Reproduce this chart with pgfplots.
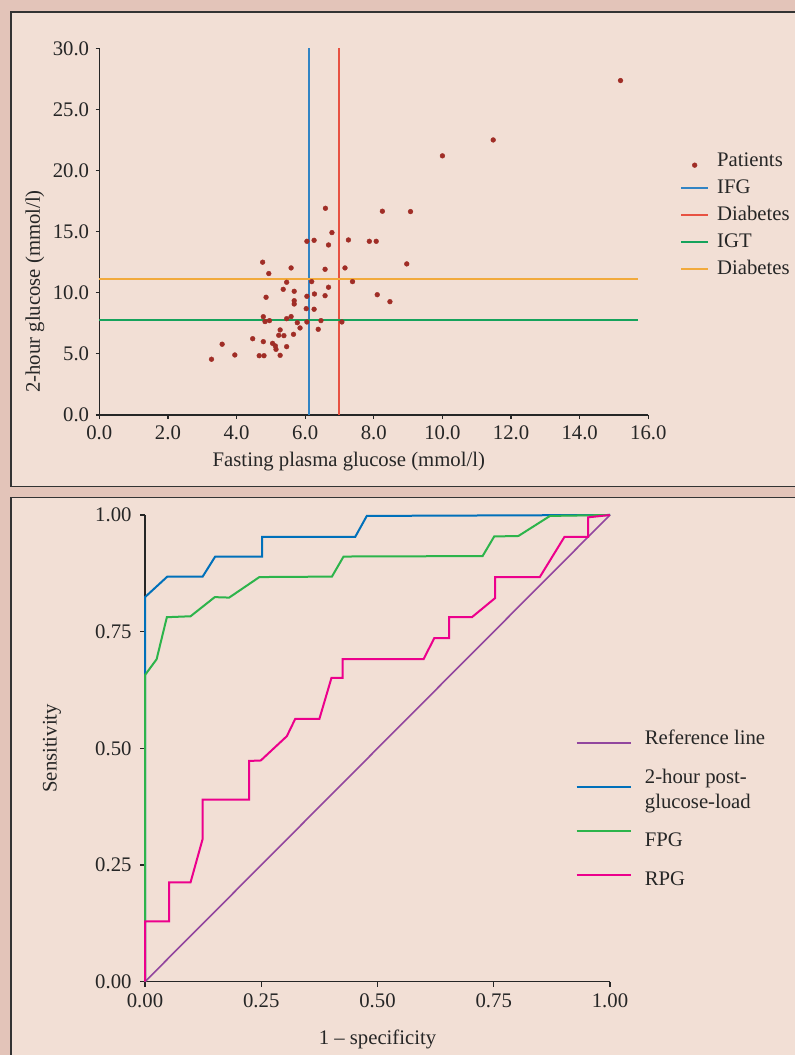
\documentclass[border=0pt]{standalone}
\usepackage{pgfplots}
\pgfplotsset{compat=1.18}
\usepackage{fontspec}
\setmainfont{Liberation Serif}
\definecolor{outerbg}{RGB}{227,196,185}
\definecolor{panelbg}{RGB}{242,223,213}
\definecolor{ptcol}{RGB}{160,45,38}
\definecolor{cifg}{RGB}{50,132,196}
\definecolor{cdred}{RGB}{232,82,66}
\definecolor{cigt}{RGB}{22,163,92}
\definecolor{cdorange}{RGB}{242,170,60}
\definecolor{refpurple}{RGB}{146,70,158}
\definecolor{rocblue}{RGB}{0,112,186}
\definecolor{rocgreen}{RGB}{45,180,75}
\definecolor{rocpink}{RGB}{236,0,140}
\pgfplotsset{/pgf/number format/assume math mode=true}
\begin{document}
\begin{tikzpicture}[x=1bp,y=1bp,font=\fontsize{20.8}{25}\selectfont]
\useasboundingbox (0,0) rectangle (795,1055);
\fill[outerbg] (0,0) rectangle (795,1055);
\filldraw[fill=panelbg, draw=black!80, line width=1.3bp] (11,568.3) rectangle (810,1043);
\filldraw[fill=panelbg, draw=black!80, line width=1.3bp] (11,-20) rectangle (810,557.7);

\begin{axis}[
  at={(99.3bp,640bp)}, anchor=south west,
  scale only axis, width=549bp, height=366.7bp,
  xmin=0, xmax=16, ymin=0, ymax=30,
  axis x line*=bottom, axis y line*=left,
  axis line style={-, black!85, line width=1.3bp},
  tick align=outside, major tick length=3.7bp,
  tick style={black!85, line width=1.2bp},
  xtick={0,2,...,16}, ytick={0,5,...,30},
  xticklabel style={/pgf/number format/fixed, /pgf/number format/fixed zerofill, /pgf/number format/precision=1, text=black!85, yshift=-4bp},
  yticklabel style={/pgf/number format/fixed, /pgf/number format/fixed zerofill, /pgf/number format/precision=1, text=black!85, xshift=-3bp},
  xlabel={Fasting plasma glucose (mmol/l)},
  xlabel style={at={(axis description cs:0.4545,-0.1274)}, anchor=center, text=black!85},
  ylabel={2-hour glucose (mmol/l)},
  ylabel style={at={(axis description cs:-0.1171,0.3368)}, anchor=center, text=black!85},
  clip=false,
  legend cell align=left,
  legend style={at={(1.0577,0.7227)}, anchor=north west, draw=none, fill=none,
    inner sep=0pt, column sep=6bp, row sep=5bp,
    nodes={inner sep=2bp, text height=14bp, text depth=4bp, text=black!85}},
  legend image code/.code={\draw[#1] (0bp,0bp) -- (27bp,0bp);},
]
\addplot[only marks, mark=*, mark size=2.4bp, color=ptcol,
  legend image code/.code={\draw[ptcol, mark=*, mark size=2.4bp] plot coordinates {(13.5bp,-4bp)};}] coordinates {
(3.27,4.56) (3.58,5.79) (3.95,4.91) (4.47,6.24) (4.66,4.85) (4.80,4.85)
(4.78,6.00) (4.76,12.50) (4.78,8.04) (4.83,7.64) (4.96,7.72) (4.86,9.63)
(4.94,11.57) (5.05,5.86) (5.13,5.65) (5.15,5.37) (5.27,4.88) (5.27,6.96)
(5.23,6.52) (5.38,6.49) (5.46,5.59) (5.36,10.28) (5.46,10.86) (5.46,7.88)
(5.59,12.03) (5.59,8.05) (5.66,6.60) (5.68,10.12) (5.68,9.35) (5.68,9.08)
(5.77,7.55) (5.85,7.12) (6.03,8.70) (6.05,9.71) (6.05,7.61) (6.05,14.21)
(6.26,14.29) (6.19,10.91) (6.27,9.90) (6.26,8.65) (6.38,7.01) (6.46,7.72)
(6.58,11.92) (6.58,9.76) (6.68,10.45) (6.68,13.91) (6.78,14.92) (7.07,7.61)
(7.16,12.03) (7.26,14.32) (7.38,10.91) (7.87,14.21) (8.07,14.21) (8.10,9.84)
(8.47,9.27) (8.96,12.36) (6.59,16.91) (8.25,16.67) (9.07,16.64) (10.00,21.20)
(11.48,22.50) (15.19,27.36)
};
\addlegendentry{Patients}
\addplot[color=cifg, line width=2bp] coordinates {(6.1,0) (6.1,30)};
\addlegendentry{IFG}
\addplot[color=cdred, line width=2bp] coordinates {(7.0,0) (7.0,30)};
\addlegendentry{Diabetes}
\addplot[color=cigt, line width=2bp] coordinates {(0,7.8) (15.7,7.8)};
\addlegendentry{IGT}
\addplot[color=cdorange, line width=2bp] coordinates {(0,11.1) (15.7,11.1)};
\addlegendentry{Diabetes}
\end{axis}

\begin{axis}[
  at={(145bp,73.3bp)}, anchor=south west,
  scale only axis, width=465bp, height=466.7bp,
  xmin=0, xmax=1, ymin=0, ymax=1,
  axis x line*=bottom, axis y line*=left,
  axis line style={-, black!85, line width=1.3bp},
  tick align=outside, major tick length=5bp,
  tick style={black!85, line width=1.2bp},
  xtick={0,0.25,0.5,0.75,1}, ytick={0,0.25,0.5,0.75,1},
  xticklabel style={/pgf/number format/fixed, /pgf/number format/fixed zerofill, /pgf/number format/precision=2, text=black!85, yshift=-4bp},
  yticklabel style={/pgf/number format/fixed, /pgf/number format/fixed zerofill, /pgf/number format/precision=2, text=black!85, xshift=-5bp},
  xlabel={1 – specificity},
  xlabel style={at={(axis description cs:0.5,-0.1228)}, anchor=center, text=black!85},
  ylabel={Sensitivity},
  ylabel style={at={(axis description cs:-0.2,0.5)}, anchor=center, text=black!85},
  clip=false,
  legend cell align=left,
  legend style={at={(0.9247,0.5357)}, anchor=north west, draw=none, fill=none,
    inner sep=0pt, column sep=11bp, row sep=22bp,
    nodes={inner sep=2bp, text height=14bp, text depth=4bp, text=black!85}},
  legend image code/.code={\draw[#1, line width=2.7bp] (0bp,0bp) -- (54bp,0bp);},
]
\addplot[color=refpurple, line width=1.6bp] coordinates {(0,0) (1,1)};
\addlegendentry{\raisebox{3.5bp}{Reference line}}
\addplot[color=rocblue, line width=2bp] coordinates {
(0,0) (0,0.824) (0.048,0.868) (0.124,0.868) (0.151,0.911) (0.252,0.911)
(0.252,0.953) (0.452,0.953) (0.477,0.998) (1,1)
};
\addlegendentry{\smash{\raisebox{-4bp}{\begin{tabular}[c]{@{}l@{}}2-hour post-\\glucose-load\end{tabular}}}}
\addplot[color=rocgreen, line width=2bp] coordinates {
(0,0) (0,0.657) (0.025,0.691) (0.047,0.781) (0.098,0.783) (0.150,0.824)
(0.181,0.823) (0.246,0.867) (0.402,0.868) (0.427,0.911) (0.726,0.912)
(0.751,0.954) (0.803,0.955) (0.871,0.998) (1,1)
};
\addlegendentry{\raisebox{-11bp}{FPG}}
\addplot[color=rocpink, line width=2bp] coordinates {
(0,0) (0,0.129) (0.052,0.129) (0.052,0.213) (0.098,0.213) (0.124,0.306)
(0.124,0.390) (0.224,0.390) (0.224,0.473) (0.249,0.474) (0.305,0.526)
(0.323,0.563) (0.375,0.563) (0.401,0.651) (0.425,0.651) (0.425,0.691)
(0.599,0.691) (0.622,0.736) (0.654,0.736) (0.654,0.781) (0.703,0.781)
(0.753,0.822) (0.753,0.867) (0.849,0.867) (0.902,0.953) (0.953,0.953)
(0.953,0.995) (1,1)
};
\addlegendentry{\raisebox{-6bp}{RPG}}
\end{axis}
\end{tikzpicture}
\end{document}
